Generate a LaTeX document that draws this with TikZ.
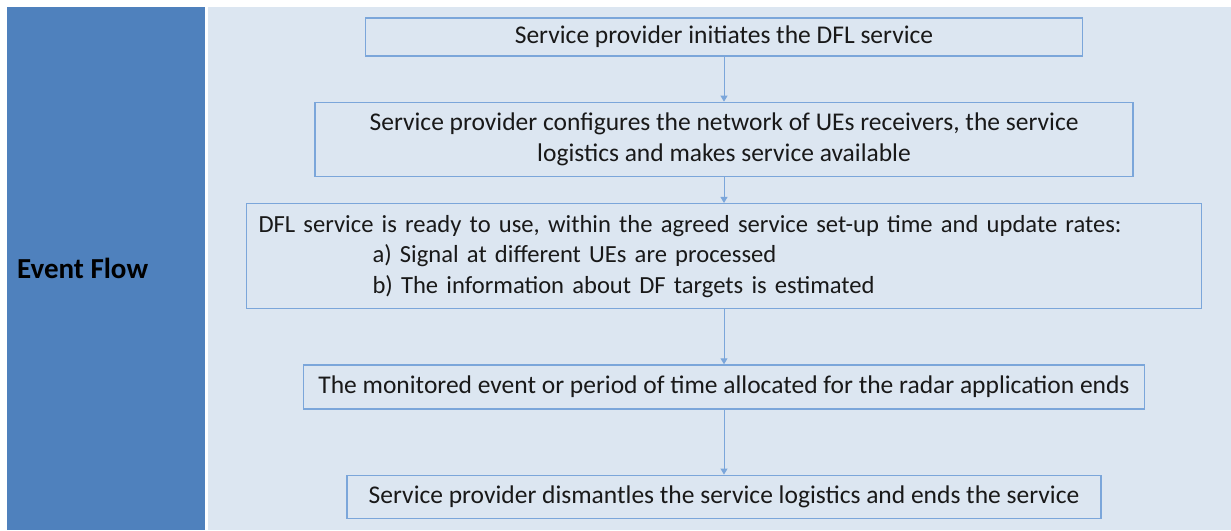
\documentclass[tikz,border=0pt]{standalone}
\usepackage{fontspec}
\setmainfont{Carlito}
\usepackage{xcolor}
\usepackage{tikz}
\usetikzlibrary{shapes,arrows.meta,positioning,fit,backgrounds}
\definecolor{colblue}{HTML}{4F81BD}
\definecolor{panelblue}{HTML}{DCE6F1}
\definecolor{lineblue}{HTML}{7BA6DA}

\begin{document}
\begin{tikzpicture}[
    x=1pt, y=-1pt,
    node distance=45pt,
    stepbox/.style={rectangle, draw=lineblue, line width=1.3pt, inner sep=0pt, align=center, text=black!90, font=\fontsize{25.5}{30.5}\selectfont},
    flow/.style={draw=lineblue, line width=1pt, -{Triangle[width=7pt,length=6pt]}}
]
\useasboundingbox (0,0) rectangle (1231,530);
\fill[colblue] (7,7) rectangle (205,530);
\fill[panelblue] (208,7) rectangle (1231,530);
\node[anchor=west, inner sep=0pt, font=\fontsize{29}{32}\selectfont\bfseries] (title) at (17,268) {Event Flow};

\node[stepbox, minimum width=717pt, minimum height=38pt] (s1) at (724,37) {Service provider initiates the DFL service};
\node[stepbox, minimum width=818pt, minimum height=74pt, below=45pt of s1] (s2) {Service provider configures the network of UEs receivers, the service\\logistics and makes service available};
\node[stepbox, minimum width=955pt, minimum height=105pt, text width=931pt, align=left, font=\fontsize{24.6}{30.5}\selectfont, below=26pt of s2] (s3) {DFL service is ready to use, within the agreed service set-up time and update rates:\\\hspace*{114pt}a) Signal at different UEs are processed\\\hspace*{114pt}b) The information about DF targets is estimated};
\node[stepbox, minimum width=841pt, minimum height=44pt, below=55pt of s3] (s4) {The monitored event or period of time allocated for the radar application ends};
\node[stepbox, minimum width=754pt, minimum height=43pt, below=65pt of s4] (s5) {Service provider dismantles the service logistics and ends the service};

\draw[flow] (s1.south) -- (s2.north);
\draw[flow] (s2.south) -- (s3.north);
\draw[flow] (s3.south) -- (s4.north);
\draw[flow] (s4.south) -- (s5.north);
\end{tikzpicture}
\end{document}
